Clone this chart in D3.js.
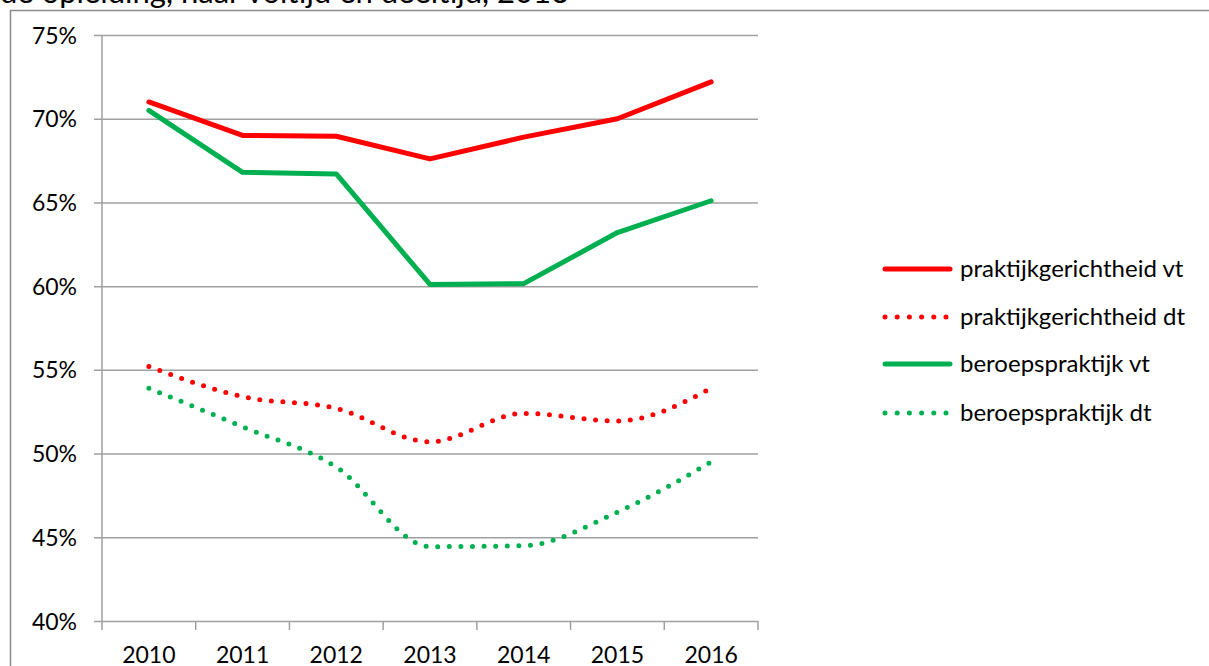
<!DOCTYPE html>
<html>
<head>
<meta charset="utf-8">
<script src="https://cdn.jsdelivr.net/npm/d3@7"></script>
<style>
  body { margin: 0; background: #fff; }
  svg text { font-family: Lato, "Open Sans", sans-serif; fill: #000; }
</style>
</head>
<body>
<svg class="mainsvg" width="1209" height="666"></svg>
<script>
// data
var years = ['2010', '2011', '2012', '2013', '2014', '2015', '2016'];
var praktijkVt = [0.710, 0.690, 0.6895, 0.676, 0.689, 0.700, 0.722];
var praktijkDt = [0.552, 0.534, 0.527, 0.507, 0.524, 0.5195, 0.539];
var beroepsVt  = [0.705, 0.668, 0.667, 0.601, 0.6015, 0.632, 0.651];
var beroepsDt  = [0.539, 0.516, 0.492, 0.4444, 0.445, 0.465, 0.495];
var yTicks = [0.40, 0.45, 0.50, 0.55, 0.60, 0.65, 0.70, 0.75];

var seriesNames = ['praktijkgerichtheid vt', 'praktijkgerichtheid dt', 'beroepspraktijk vt', 'beroepspraktijk dt'];
var seriesValues = [praktijkVt, praktijkDt, beroepsVt, beroepsDt];
var seriesColors = ['#ff0000', '#ff0000', '#00b050', '#00b050'];
var seriesDotted = [false, true, false, true];

function drawChart () {
	var svg = d3.select('.mainsvg');

	var plotLeft = 102, plotRight = 758, plotTop = 35, plotBottom = 621;
	var x = d3.scaleBand().domain(years).range([plotLeft, plotRight]);
	var y = d3.scaleLinear().domain([0.40, 0.75]).range([plotBottom, plotTop]);

	// title, cut off at the top
	svg.append('text')
		.attr('x', 0)
		.attr('y', 3)
		.attr('font-size', '31px')
		.text('de opleiding, naar voltijd en deeltijd, 2016');

	// outer chart frame
	svg.append('rect')
		.attr('x', 10.5)
		.attr('y', 10.5)
		.attr('width', 1300)
		.attr('height', 700)
		.attr('fill', '#fff')
		.attr('stroke', '#8c8c8c')
		.attr('stroke-width', 1.5);

	// gridlines + y labels
	var yAxis = svg.append('g')
		.attr('transform', 'translate(' + plotLeft + ',0)')
		.call(d3.axisLeft(y).tickValues(yTicks).tickSize(0).tickFormat(d3.format('.0%')));
	yAxis.select('.domain').remove();
	yAxis.selectAll('.tick line')
		.attr('x1', -8)
		.attr('x2', plotRight - plotLeft)
		.attr('stroke', '#a0a0a0')
		.attr('stroke-width', 1.5);
	yAxis.selectAll('.tick text')
		.attr('x', -25)
		.attr('dy', '0.35em')
		.attr('font-size', '23px')
		.attr('font-family', 'Lato, sans-serif')
		.attr('fill', '#000');

	// vertical axis line
	svg.append('line')
		.attr('x1', plotLeft).attr('x2', plotLeft)
		.attr('y1', plotTop).attr('y2', plotBottom)
		.attr('stroke', '#a0a0a0')
		.attr('stroke-width', 1.5);

	// x axis ticks between categories
	var xEdges = years.map(function(d) { return x(d); }).concat([plotRight]);
	svg.selectAll('.x-tick')
		.data(xEdges)
		.enter().append('line')
		.classed('x-tick', true)
		.attr('x1', function(d) { return d; })
		.attr('x2', function(d) { return d; })
		.attr('y1', plotBottom)
		.attr('y2', plotBottom + 9)
		.attr('stroke', '#a0a0a0')
		.attr('stroke-width', 1.5);

	svg.selectAll('.x-label')
		.data(years)
		.enter().append('text')
		.classed('x-label', true)
		.attr('x', function(d) { return x(d) + x.bandwidth() / 2; })
		.attr('y', 663)
		.attr('font-size', '23px')
		.style('text-anchor', 'middle')
		.text(function(d) { return d; });

	// lines
	var straight = d3.line()
		.x(function(d, i) { return x(years[i]) + x.bandwidth() / 2; })
		.y(function(d) { return y(d); });
	var smooth = d3.line()
		.x(function(d, i) { return x(years[i]) + x.bandwidth() / 2; })
		.y(function(d) { return y(d); })
		.curve(d3.curveMonotoneX);

	seriesValues.forEach(function(vals, i) {
		var p = svg.append('path')
			.attr('d', seriesDotted[i] ? smooth(vals) : straight(vals))
			.attr('fill', 'none')
			.attr('stroke', seriesColors[i])
			.attr('stroke-width', 5)
			.attr('stroke-linecap', 'round')
			.attr('stroke-linejoin', 'round');
		if (seriesDotted[i]) p.attr('stroke-dasharray', '0 11.6');
	});

	// legend
	var legendY = [269, 317, 364, 413];
	seriesNames.forEach(function(name, i) {
		var p = svg.append('line')
			.attr('x1', 885).attr('x2', 950)
			.attr('y1', legendY[i]).attr('y2', legendY[i])
			.attr('stroke', seriesColors[i])
			.attr('stroke-width', 5)
			.attr('stroke-linecap', 'round');
		if (seriesDotted[i]) p.attr('stroke-dasharray', '0 12.2');
		svg.append('text')
			.attr('x', 960)
			.attr('y', legendY[i])
			.attr('dy', '0.35em')
			.attr('font-size', '24px')
			.text(name);
	});
}

drawChart();
</script>
</body>
</html>
